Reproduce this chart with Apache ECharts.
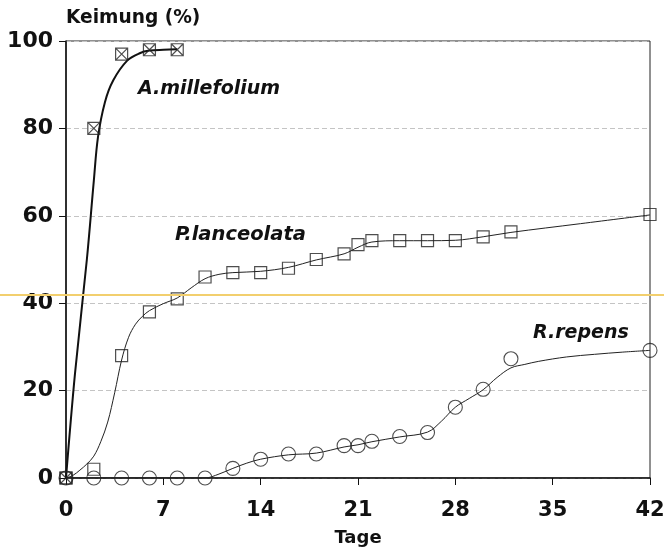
<!DOCTYPE html>
<html>
<head>
<meta charset="utf-8">
<script src="https://cdn.jsdelivr.net/npm/echarts@6/dist/echarts.min.js"></script>
<style>html,body{margin:0;padding:0;background:#fff;}#c{width:664px;height:550px;}</style>
</head>
<body>
<div id="c"></div>
<script>
// Measured points (day, germination %)
const daysA = [0, 2, 4, 6, 8];
const keimA = [0, 80, 97, 98, 98];
const daysP = [0, 2, 4, 6, 8, 10, 12, 14, 16, 18, 20, 21, 22, 24, 26, 28, 30, 32, 42];
const keimP = [0, 2, 28, 38, 41, 46, 47, 47, 48, 50, 51.3, 53.4, 54.3, 54.3, 54.3, 54.3, 55.2, 56.3, 60.3];
const daysR = [0, 2, 4, 6, 8, 10, 12, 14, 16, 18, 20, 21, 22, 24, 26, 28, 30, 32, 42];
const keimR = [0, 0, 0, 0, 0, 0, 2.2, 4.3, 5.5, 5.5, 7.4, 7.4, 8.4, 9.5, 10.4, 16.2, 20.3, 27.3, 29.2];
// Fitted curves
const fitAx = [0, 0.65, 1.5, 2, 2.3, 2.8, 3.4, 4.4, 5.3, 6, 7, 8];
const fitAy = [0, 24, 50, 68, 78, 86, 91, 95.5, 97.2, 97.8, 98, 98.1];
const fitPx = [0, 0.5, 1, 1.5, 2, 2.5, 3, 3.5, 4, 4.5, 5, 5.5, 6, 7, 8, 9, 10, 11, 12, 14, 16, 18, 20, 21, 22, 24, 26, 28, 30, 32, 37, 42];
const fitPy = [0, 0.6, 1.8, 3.2, 5, 8.3, 12.8, 19.5, 27, 32.2, 35.2, 37, 38.3, 39.9, 41.2, 43.5, 45.6, 46.6, 47, 47.3, 48.2, 49.9, 51.3, 52.8, 54, 54.3, 54.3, 54.4, 55.2, 56.2, 58.2, 60.2];
const fitRx = [0, 10, 11, 12, 13, 14, 16, 18, 20, 21, 22, 24, 26, 27, 28, 29, 30, 31, 32, 33, 34, 36, 38, 40, 42];
const fitRy = [0, 0, 0.9, 2.2, 3.4, 4.3, 5.3, 5.7, 7.1, 7.6, 8.3, 9.4, 10.5, 13, 16.2, 18.2, 20.2, 23, 25.2, 26, 26.7, 27.7, 28.3, 28.8, 29.2];
const xTicks = [0, 7, 14, 21, 28, 35, 42];
const yTicks = [0, 20, 40, 60, 80, 100];

const zip = (a, b) => a.map((v, i) => [v, b[i]]);
const crossSquare = 'path://M0,0L10,0L10,10L0,10Z M0,0L10,10 M10,0L0,10';
const FONT = '"DejaVu Sans", sans-serif';

const chart = echarts.init(document.getElementById('c'), null, {renderer: 'canvas'});
chart.setOption({
  animation: false,
  backgroundColor: '#fff',
  grid: {left: 66, right: 14, top: 41, bottom: 72, outerBoundsMode: 'none', show: true, borderColor: '#222', borderWidth: 1},
  xAxis: {
    type: 'value', min: xTicks[0], max: xTicks[xTicks.length - 1], interval: 7,
    name: 'Tage', nameLocation: 'middle', nameGap: 51,
    nameTextStyle: {fontFamily: FONT, fontSize: 18, fontWeight: 'bold', color: '#111'},
    axisLine: {show: true, onZero: false, lineStyle: {color: '#111', width: 1.5}},
    axisTick: {show: true, inside: false, length: 7, lineStyle: {color: '#111', width: 1}},
    axisLabel: {margin: 22, fontFamily: FONT, fontSize: 21, fontWeight: 'bold', color: '#111'},
    splitLine: {show: false}
  },
  yAxis: {
    type: 'value', min: yTicks[0], max: yTicks[yTicks.length - 1], interval: 20,
    axisLine: {show: true, onZero: false, lineStyle: {color: '#111', width: 1.5}},
    axisTick: {show: true, inside: false, length: 7, lineStyle: {color: '#111', width: 1}},
    axisLabel: {margin: 13, fontFamily: FONT, fontSize: 22, fontWeight: 'bold', color: '#111'},
    splitLine: {show: true, lineStyle: {color: '#c4c4c4', width: 1, type: [5, 3]}}
  },
  series: [
    {type: 'line', data: zip(fitAx, fitAy), showSymbol: false, smooth: 0.35,
     lineStyle: {color: '#111', width: 2}, z: 3},
    {type: 'line', data: zip(fitPx, fitPy), showSymbol: false, smooth: 0.35,
     lineStyle: {color: '#222', width: 1}, z: 3},
    {type: 'line', data: zip(fitRx, fitRy), showSymbol: false, smooth: 0.35,
     lineStyle: {color: '#222', width: 1}, z: 3},
    {type: 'scatter', data: zip(daysA, keimA), symbol: crossSquare, symbolSize: 12,
     itemStyle: {color: 'none', borderColor: '#222', borderWidth: 1.2}, z: 4},
    {type: 'scatter', data: zip(daysP, keimP), symbol: 'rect', symbolSize: 12,
     itemStyle: {color: 'none', borderColor: '#222', borderWidth: 1.2}, z: 4},
    {type: 'scatter', data: zip(daysR, keimR), symbol: 'circle', symbolSize: 14,
     itemStyle: {color: 'none', borderColor: '#222', borderWidth: 1.1}, z: 4}
  ],
  graphic: [
    {type: 'text', left: 66, top: 9, style: {text: 'Keimung (%)', font: 'bold 18.6px ' + FONT, fill: '#111'}},
    {type: 'text', left: 138, top: 80, style: {text: 'A.millefolium', font: 'italic bold 19px ' + FONT, fill: '#111'}},
    {type: 'text', left: 175, top: 225, style: {text: 'P.lanceolata', font: 'italic bold 19.5px ' + FONT, fill: '#111'}},
    {type: 'text', left: 533, top: 324, style: {text: 'R.repens', font: 'italic bold 19px ' + FONT, fill: '#111'}},
    {type: 'line', shape: {x1: 0, y1: 295, x2: 664, y2: 295}, style: {stroke: '#f2cf6e', lineWidth: 2}, z: 10}
  ]
});
</script>
</body>
</html>
